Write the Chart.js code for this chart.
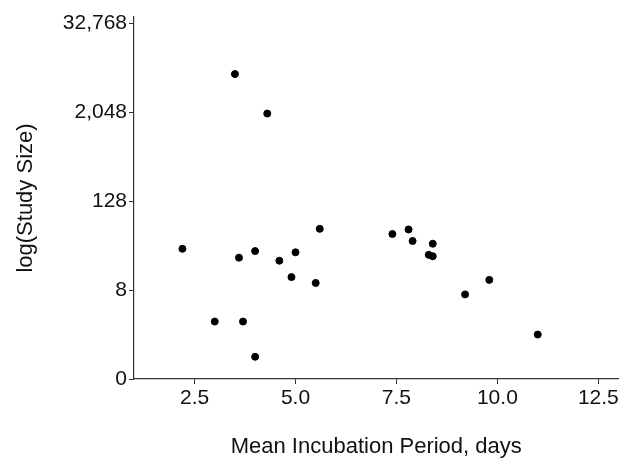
<!DOCTYPE html>
<html>
<head>
<meta charset="utf-8">
<script src="https://cdn.jsdelivr.net/npm/chart.js@4/dist/chart.umd.min.js"></script>
<style>
  html, body { margin: 0; padding: 0; background: #fff; }
  #wrap { width: 623px; height: 458px; }
</style>
</head>
<body>
<div id="wrap"><canvas id="myChart" width="623" height="458"></canvas></div>
<script>
// mean incubation period (days) vs study size
const incubationDays = [3.5, 4.3, 2.2, 3.6, 4.0, 4.6, 5.0, 5.6, 4.9, 5.5, 3.0, 3.7, 4.0,
                        7.4, 7.8, 7.9, 8.4, 8.3, 8.4, 9.8, 9.2, 11.0];
const studySize = [6750, 1970, 29, 22, 27, 20, 26, 54, 12, 10, 3, 3, 1,
                   46, 53, 37, 34, 24, 23, 11, 7, 2];

const xTicks = [2.5, 5.0, 7.5, 10.0, 12.5];
const yTicks = [0.5, 8, 128, 2048, 32768];
const yTickLabels = ["0", "8", "128", "2,048", "32,768"];

const points = incubationDays.map((d, i) => ({x: d, y: studySize[i]}));

const axisColor = "#333";
const fam = "'Liberation Sans', Arial, sans-serif";
const font = {family: fam, size: 21};

new Chart(document.getElementById("myChart"), {
  type: "scatter",
  data: {
    datasets: [{
      data: points,
      backgroundColor: "#000",
      borderColor: "#000",
      pointRadius: 3.5,
      pointHoverRadius: 3.5
    }]
  },
  options: {
    responsive: false,
    animation: false,
    layout: {padding: {top: 17, right: -3, left: 0, bottom: 0}},
    plugins: {legend: {display: false}, tooltip: {enabled: false}},
    scales: {
      x: {
        type: "linear",
        min: 1.0,
        max: 13.0,
        afterBuildTicks: (scale) => { scale.ticks = xTicks.map(v => ({value: v})); },
        afterFit: (scale) => { scale.height = 79; },
        grid: {drawOnChartArea: false, tickLength: 5, lineWidth: 1, color: axisColor, tickColor: axisColor},
        border: {color: axisColor, width: 1.2},
        ticks: {color: "#111", font: font, padding: 2, callback: (v) => Number(v).toFixed(1)},
        title: {display: true, text: "Mean Incubation Period, days", color: "#111",
                font: {family: fam, size: 22}, padding: {top: 0, bottom: -2}}
      },
      y: {
        type: "logarithmic",
        min: 0.5,
        max: 40000,
        afterBuildTicks: (scale) => { scale.ticks = yTicks.map(v => ({value: v})); },
        afterFit: (scale) => { scale.width = 134; },
        grid: {drawOnChartArea: false, tickLength: 5, lineWidth: 1, color: axisColor, tickColor: axisColor},
        border: {color: axisColor, width: 1.2},
        ticks: {color: "#111", font: font, padding: 2,
                callback: (v) => { const i = yTicks.indexOf(v); return i >= 0 ? yTickLabels[i] : ""; }},
        title: {display: true, text: "log(Study Size)", color: "#111",
                font: {family: fam, size: 22}, padding: {top: 13, bottom: 0}}
      }
    }
  }
});
</script>
</body>
</html>
